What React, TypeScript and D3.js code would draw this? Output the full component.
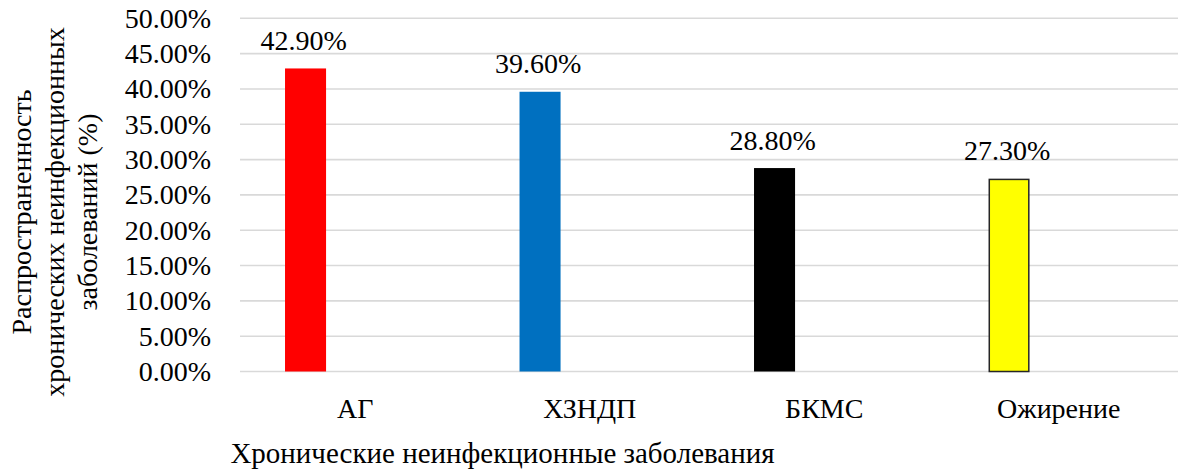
import React from "react";
import * as d3 from "d3";

// Prevalence of chronic non-communicable diseases, shares (0–1)
const categories = ["АГ", "ХЗНДП", "БКМС", "Ожирение"];
const prevalence = [0.429, 0.396, 0.288, 0.273];
const barColors = ["#ff0000", "#0070c0", "#000000", "#ffff00"];
const barStrokes = ["none", "none", "none", "#262626"];
const yTicks = [0, 0.05, 0.1, 0.15, 0.2, 0.25, 0.3, 0.35, 0.4, 0.45, 0.5];
const yTitleLines = ["Распространенность", "хронических неинфекционных", "заболеваний (%)"];
const xTitle = "Хронические неинфекционные заболевания";

const W = 1179;
const H = 470;
const FONT = "'Liberation Serif', 'Times New Roman', serif";
const FS = 28;

export default function App() {
  const x = d3.scaleBand<string>().domain(categories).range([240, 1178]).padding(0);
  const y = d3.scaleLinear().domain([0, 0.5]).range([371.5, 18.3]);
  const bw = x.bandwidth();
  const barOffset = bw * 0.192;
  const barWidth = bw * 0.175;
  const fmt = (v: number) => (v * 100).toFixed(2) + "%";

  return (
    <svg
      width={W}
      height={H}
      viewBox={`0 0 ${W} ${H}`}
      style={{ position: "absolute", left: 0, top: 0, background: "#fff", fontFamily: FONT }}
    >
      <rect x={0} y={0} width={W} height={H} fill="#fff" />
      {/* gridlines */}
      {yTicks.map((t) => (
        <line
          key={"g" + t}
          x1={240}
          x2={1178}
          y1={y(t)}
          y2={y(t)}
          stroke="#d9d9d9"
          strokeWidth={1.6}
        />
      ))}
      {/* y tick labels */}
      {yTicks.map((t) => (
        <text
          key={"t" + t}
          x={211}
          y={y(t) + 9.5}
          textAnchor="end"
          fontSize={FS}
          fill="#000"
        >
          {fmt(t)}
        </text>
      ))}
      {/* bars */}
      {categories.map((c, i) => {
        const x0 = (x(c) as number) + barOffset;
        const stroke = barStrokes[i];
        return (
          <g key={c}>
            <rect
              x={stroke === "none" ? x0 : x0 + 0.75}
              y={stroke === "none" ? y(prevalence[i]) : y(prevalence[i]) + 0.75}
              width={stroke === "none" ? barWidth : barWidth - 1.5}
              height={y(0) - y(prevalence[i]) - (stroke === "none" ? 0 : 0.75)}
              fill={barColors[i]}
              stroke={stroke}
              strokeWidth={1.5}
            />
            <text
              x={x0 + barWidth / 2 - 2}
              y={y(prevalence[i]) - 18.5}
              textAnchor="middle"
              fontSize={FS}
              fill="#000"
            >
              {fmt(prevalence[i])}
            </text>
            <text
              x={(x(c) as number) + bw / 2 - 2}
              y={418}
              textAnchor="middle"
              fontSize={FS}
              fill="#000"
            >
              {c}
            </text>
          </g>
        );
      })}
      {/* x axis title */}
      <text x={502.5} y={463} textAnchor="middle" fontSize={29} fill="#000">
        {xTitle}
      </text>
      {/* y axis title */}
      {yTitleLines.map((line, i) => {
        const bx = 31 + i * 33;
        return (
          <text
            key={line}
            transform={`translate(${bx},212) rotate(-90)`}
            textAnchor="middle"
            fontSize={FS}
            fill="#000"
          >
            {line}
          </text>
        );
      })}
    </svg>
  );
}
